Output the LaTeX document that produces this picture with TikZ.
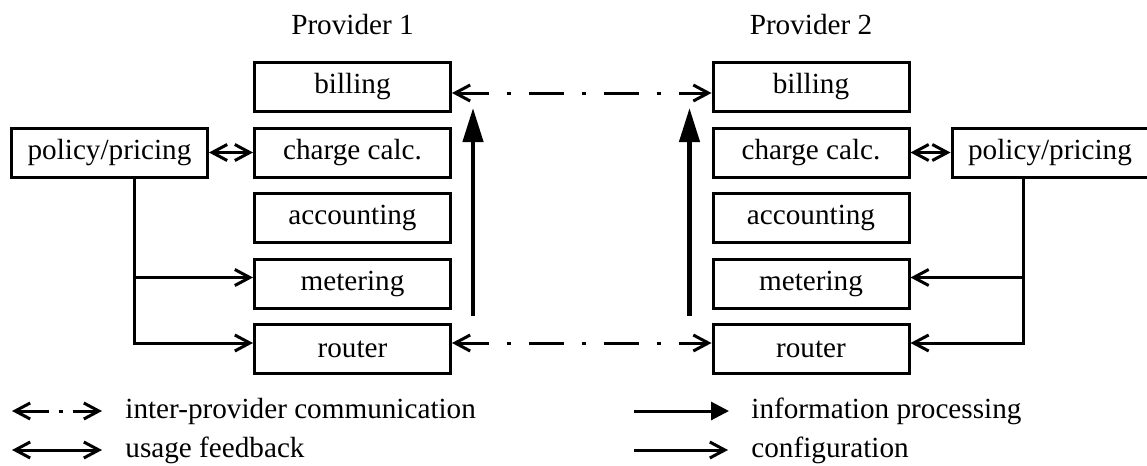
\documentclass[tikz,border=0pt]{standalone}
\usepackage{fontspec}
\setmainfont{Liberation Serif}
\usetikzlibrary{arrows.meta, positioning, calc}

\begin{document}
\begin{tikzpicture}[
        x=0.5pt, y=-0.5pt,
        node distance=6.75pt,
        font=\fontsize{14.6}{17}\selectfont,
        box/.style={rectangle, draw, line width=1.5pt, minimum width=98pt, minimum height=24.5pt, inner sep=0pt},
        feed/.style={draw, line width=1.5pt, {Straight Barb[length=7.5pt,width=8pt]}-{Straight Barb[length=7.5pt,width=8pt]}},
        comm/.style={feed, dash pattern=on 17.5pt off 9pt on 2pt off 9pt, dash phase=1.5pt},
        config/.style={draw, line width=1.5pt, -{Straight Barb[length=7.5pt,width=8pt]}},
        info/.style={draw, line width=2.2pt, -{Triangle[length=17pt,width=10pt]}}
    ]
        \useasboundingbox (0,0) rectangle (1147,466);

        % provider 1 stack
        \node (prov1) at (352.5,25) {Provider 1};
        \node [box] (bill1) at (352.5,87) {billing};
        \node [box, below=of bill1] (calc1) {charge calc.};
        \node [box, below=of calc1] (acct1) {accounting};
        \node [box, below=of acct1] (meter1) {metering};
        \node [box, below=of meter1] (router1) {router};
        \node [box, left=22pt of calc1] (policy1) {policy/pricing};

        % provider 2 stack
        \node (prov2) at (811,25) {Provider 2};
        \node [box] (bill2) at (811,87) {billing};
        \node [box, below=of bill2] (calc2) {charge calc.};
        \node [box, below=of calc2] (acct2) {accounting};
        \node [box, below=of acct2] (meter2) {metering};
        \node [box, below=of meter2] (router2) {router};
        \node [box, right=20pt of calc2] (policy2) {policy/pricing};

        % inter-provider links
        \path [comm] ([yshift=-3pt]bill1.east) -- ([yshift=-3pt]bill2.west);
        \path [comm] ([yshift=3pt]router1.east) -- ([yshift=3pt]router2.west);

        % usage feedback
        \path [feed] (policy1) -- (calc1);
        \path [feed] (calc2) -- (policy2);

        % configuration
        \path [config] ($(policy1.south)+(25,0)$) |- ([yshift=3pt]meter1.west);
        \path [config] ($(policy1.south)+(25,0)$) |- ([yshift=3pt]router1.west);
        \path [config] ($(policy2.south)+(-26.5,0)$) |- ([yshift=3pt]meter2.east);
        \path [config] ($(policy2.south)+(-26.5,0)$) |- ([yshift=3pt]router2.east);

        % information processing
        \path [info] ($(router1.north east)+(21,-7)$) -- ($(bill1.south east)+(21,-5)$);
        \path [info] ($(router2.north west)+(-22,-7)$) -- ($(bill2.south west)+(-22,-5)$);

        % legend
        \node [anchor=west, inner sep=0pt] (lcomm) at (125,411) {inter-provider communication};
        \node [anchor=west, inner sep=0pt] (lfeed) at (125,450) {usage feedback};
        \node [anchor=west, inner sep=0pt] (linfo) at (751,411) {information processing};
        \node [anchor=west, inner sep=0pt] (lconf) at (751,450) {configuration};
        \coordinate (lcomm-a) at (12,411);
        \coordinate (lfeed-a) at (12,450);
        \coordinate (linfo-a) at (634,411);
        \coordinate (lconf-a) at (634,450);
        \path [feed, dash pattern=on 16pt off 5pt on 2pt off 5pt on 20pt] (lcomm-a) -- ([xshift=-11.5pt]lcomm.west);
        \path [feed] (lfeed-a) -- ([xshift=-11.5pt]lfeed.west);
        \path [draw, line width=1.5pt, -{Triangle[length=9pt,width=9pt]}] (linfo-a) -- ([xshift=-11pt]linfo.west);
        \path [config] (lconf-a) -- ([xshift=-11.5pt]lconf.west);
    \end{tikzpicture}
\end{document}
